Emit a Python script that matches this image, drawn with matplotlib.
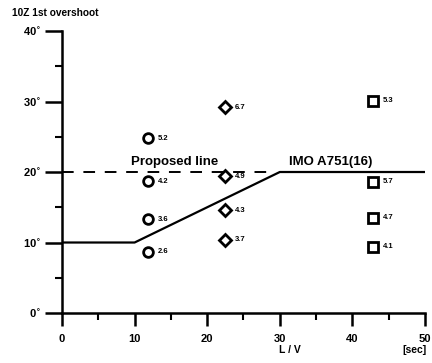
import matplotlib
matplotlib.use("Agg")
import matplotlib.pyplot as plt
from matplotlib.ticker import MultipleLocator

# ------------------------
# data
# ------------------------
circle_x = [11.8, 11.8, 11.8, 11.8]
circle_y = [24.8, 18.7, 13.3, 8.7]
circle_lbl = ["5.2", "4.2", "3.6", "2.6"]

diamond_x = [22.5, 22.5, 22.5, 22.5]
diamond_y = [29.2, 19.4, 14.6, 10.4]
diamond_lbl = ["6.7", "4.9", "4.3", "3.7"]

square_x = [42.8, 42.8, 42.8, 42.8]
square_y = [30.1, 18.6, 13.5, 9.4]
square_lbl = ["5.3", "5.7", "4.7", "4.1"]

imo_x = [0, 10, 30, 50]
imo_y = [10, 10, 20, 20]
proposed_x = [0, 29]
proposed_y = [20, 20]

x_ticks = [0, 10, 20, 30, 40, 50]
y_ticks = [0, 10, 20, 30, 40]

plt.rcParams["font.family"] = ["Liberation Sans", "DejaVu Sans"]
plt.rcParams["font.weight"] = "bold"

fig = plt.figure(figsize=(4.32, 3.63), dpi=100)
ax = fig.add_axes([0.1435, 0.1377, 0.8403, 0.7769])

ax.plot(imo_x, imo_y, color="black", lw=1.6, solid_capstyle="butt")
ax.plot(proposed_x, proposed_y, color="black", lw=1.4, dashes=(6, 5))

mk = dict(color="black", mfc="white", mec="black", mew=2.0, ls="none")
ax.plot(circle_x, circle_y, marker="o", ms=7, **mk)
ax.plot(diamond_x, diamond_y, marker="D", ms=6, **mk)
ax.plot(square_x, square_y, marker="s", ms=6.5, **mk)

for xs, ys, ls in [(circle_x, circle_y, circle_lbl),
                   (diamond_x, diamond_y, diamond_lbl),
                   (square_x, square_y, square_lbl)]:
    for xv, yv, lb in zip(xs, ys, ls):
        ax.annotate(lb, (xv, yv), xytext=(7, 0), textcoords="offset points",
                    va="center", ha="left", fontsize=5.5, fontweight="bold")

ax.text(9.5, 20.5, "Proposed line", fontsize=9.5, fontweight="bold",
        ha="left", va="bottom")
ax.text(31.3, 20.5, "IMO A751(16)", fontsize=9.5, fontweight="bold",
        ha="left", va="bottom")

ax.set_xlim(0, 50)
ax.set_ylim(0, 40)
ax.set_xticks(x_ticks)
ax.xaxis.set_minor_locator(MultipleLocator(5))
ax.set_yticks(y_ticks)
ax.yaxis.set_minor_locator(MultipleLocator(5))
ax.set_yticklabels([f"{v}$^{{\\circ}}$" for v in y_ticks])

for s in ["top", "right"]:
    ax.spines[s].set_visible(False)
for s in ["left", "bottom"]:
    ax.spines[s].set_linewidth(1.8)

ax.tick_params(axis="y", which="major", length=12, width=1.8,
               labelsize=8, pad=3)
ax.tick_params(axis="y", which="minor", length=5, width=1.5)
ax.tick_params(axis="x", which="major", length=9, width=1.8,
               labelsize=8, pad=6)
ax.tick_params(axis="x", which="minor", length=5, width=1.5)

fig.text(0.028, 0.965, "10Z 1st overshoot", fontsize=7.3, fontweight="bold",
         ha="left", va="center")
fig.text(0.67, 0.035, "L / V", fontsize=7.5, fontweight="bold",
         ha="center", va="center")
fig.text(0.96, 0.035, "[sec]", fontsize=7.5, fontweight="bold",
         ha="center", va="center")

fig.savefig("out.png", dpi=100)
